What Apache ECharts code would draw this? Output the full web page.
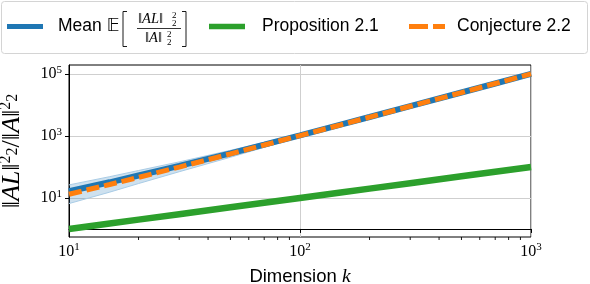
<!DOCTYPE html>
<html>
<head>
<meta charset="utf-8">
<script src="https://cdn.jsdelivr.net/npm/echarts@6/dist/echarts.min.js"></script>
<style>
  html, body { margin: 0; padding: 0; background: #fff; }
  #chart { width: 590px; height: 284px; }
</style>
</head>
<body>
<div id="chart"></div>
<script>
// ---- data ----
const kValues      = [10, 15, 20, 30, 50, 70, 100, 150, 200, 300, 500, 700, 1000];
const meanValues   = [16.5, 32, 53, 108, 275, 525, 1050, 2330, 4100, 9150, 25250, 49350, 100500];
const meanLower    = [6.6, 15.4, 29.2, 70.2, 206, 430, 924, 2144, 3854, 8784, 24490, 48360, 98990];
const meanUpper    = [26.4, 48.6, 76.9, 145.8, 344, 620, 1176, 2516, 4346, 9516, 26010, 50340, 102010];
const proposition  = [1, 1.5, 2, 3, 5, 7, 10, 15, 20, 30, 50, 70, 100];
const conjecture   = [13.2, 27.2, 46.2, 99.2, 265, 511, 1030, 2295, 4060, 9090, 25150, 49210, 100300];
const xTickValues  = [10, 100, 1000];
const yTickValues  = [10, 1000, 100000];
const xMinorTicks  = [20, 30, 40, 50, 60, 70, 80, 90, 200, 300, 400, 500, 600, 700, 800, 900];
const xRange       = [10, 1000];
const yRange       = [0.55, 195000];
const seriesNames  = ['Mean', 'Proposition 2.1', 'Conjecture 2.2'];
const legendTexts  = ['Mean 𝔼', 'Proposition 2.1', 'Conjecture 2.2'];

// ---- helpers (log scale mapping) ----
const L = v => Math.log10(v);
const pairs = arr => kValues.map((k, i) => [L(k), L(arr[i])]);

const serif = "'Liberation Serif', 'DejaVu Serif', serif";
const sans = "'Liberation Sans', 'DejaVu Sans', sans-serif";

const powLabel = v => '{b|10}{e|' + Math.round(v) + '}';
const powRich = {
  b: { fontFamily: serif, fontSize: 16, color: '#000' },
  e: { fontFamily: serif, fontSize: 11, color: '#000', padding: [0, 0, 8, 0] }
};

const chart = echarts.init(document.getElementById('chart'), null, { renderer: 'canvas' });
const yMinLog = L(yRange[0]);

// one legend component per entry, to pin each entry where the reference has it
const legendLeft = [7, 209, 409];
const legendGap = [10, 12, 7];
const legendIcons = [
  'path://M0,0h36v5h-36z',
  'path://M0,0h36v5.5h-36z',
  'path://M0,0h19v5h-19z M24,0h12v5h-12z'
];
const legends = seriesNames.map((name, i) => ({
  data: [{ name: name, icon: legendIcons[i] }],
  left: legendLeft[i],
  top: 17.5,
  padding: 0,
  itemWidth: 36,
  itemHeight: i === 1 ? 5.5 : 5,
  selectedMode: false,
  formatter: () => '{s| }{t|' + legendTexts[i] + '}',
  textStyle: {
    fontFamily: sans, fontSize: 17.5, color: '#000',
    rich: { s: { width: legendGap[i] }, t: { fontFamily: sans, fontSize: 17.5, color: '#000' } }
  }
}));

const fracRich = { i: { fontStyle: 'italic', fontFamily: serif, fontSize: 14.5 } };

const option = {
  animation: false,
  backgroundColor: '#fff',
  graphic: [
    { type: 'rect', z: -10, shape: { x: 1.5, y: 1.5, width: 586, height: 52, r: 3 },
      style: { fill: '#fff', stroke: '#d4d4d4', lineWidth: 1 } },
    // bracketed fraction of the Mean legend entry
    { type: 'polyline', z: 10, shape: { points: [[127, 11.5], [123, 11.5], [123, 46.5], [127, 46.5]] },
      style: { stroke: '#000', lineWidth: 0.9, fill: null } },
    { type: 'polyline', z: 10, shape: { points: [[182, 11.5], [186, 11.5], [186, 46.5], [182, 46.5]] },
      style: { stroke: '#000', lineWidth: 0.9, fill: null } },
    { type: 'line', z: 10, shape: { x1: 137, y1: 28.5, x2: 181, y2: 28.5 },
      style: { stroke: '#000', lineWidth: 0.8 } },
    { type: 'text', z: 10, left: 138, top: 12,
      style: { text: '‖{i|AL}‖', rich: fracRich, fontFamily: serif, fontSize: 14.5, fill: '#000' } },
    { type: 'text', z: 10, left: 172, top: 11, style: { text: '2', fontFamily: serif, fontSize: 9, fill: '#000' } },
    { type: 'text', z: 10, left: 172, top: 19, style: { text: '2', fontFamily: serif, fontSize: 9, fill: '#000' } },
    { type: 'text', z: 10, left: 145, top: 30.5,
      style: { text: '‖{i|A}‖', rich: fracRich, fontFamily: serif, fontSize: 14.5, fill: '#000' } },
    { type: 'text', z: 10, left: 167, top: 30, style: { text: '2', fontFamily: serif, fontSize: 9, fill: '#000' } },
    { type: 'text', z: 10, left: 167, top: 38, style: { text: '2', fontFamily: serif, fontSize: 9, fill: '#000' } }
  ],
  legend: legends,
  grid: {
    left: 69, right: 59, top: 65, bottom: 47,
    containLabel: false, outerBoundsMode: 'none',
    show: true, borderColor: '#000', borderWidth: 1, backgroundColor: 'transparent'
  },
  xAxis: {
    type: 'value',
    min: L(xRange[0]), max: L(xRange[1]),
    axisLine: { show: true, lineStyle: { color: '#000', width: 1 } },
    axisTick: { show: true, inside: false, length: 4, lineStyle: { color: '#000' },
                customValues: xTickValues.map(L) },
    axisLabel: { customValues: xTickValues.map(L), formatter: powLabel, rich: powRich, margin: 5 },
    splitLine: { show: true, lineStyle: { color: '#cfcfcf', width: 1 } },
    name: '{t|Dimension }{k|k}',
    nameLocation: 'middle',
    nameGap: 30,
    nameTextStyle: {
      rich: {
        t: { fontFamily: sans, fontSize: 18.5, color: '#000' },
        k: { fontFamily: serif, fontStyle: 'italic', fontSize: 19.5, color: '#000' }
      }
    }
  },
  yAxis: {
    type: 'value',
    min: L(yRange[0]), max: L(yRange[1]),
    axisLine: { show: true, lineStyle: { color: '#000', width: 1 } },
    axisTick: { show: true, inside: false, length: 4, lineStyle: { color: '#000' },
                customValues: yTickValues.map(L) },
    axisLabel: { customValues: yTickValues.map(L), formatter: powLabel, rich: powRich, margin: 7 },
    splitLine: { show: true, lineStyle: { color: '#cfcfcf', width: 1 } },
    name: '{m|‖}{i|AL}{m|‖}{e|2}{d|2}{m|/‖}{i|A}{m|‖}{e|2}{d|2}',
    nameLocation: 'middle',
    nameGap: 42,
    nameTextStyle: {
      rich: {
        m: { fontFamily: serif, fontSize: 26, color: '#000' },
        i: { fontFamily: serif, fontStyle: 'italic', fontSize: 26, color: '#000' },
        e: { fontFamily: serif, fontSize: 16, color: '#000', padding: [0, 0, 13, 0] },
        d: { fontFamily: serif, fontSize: 16, color: '#000' }
      }
    }
  },
  series: [
    {
      name: 'band', type: 'custom', silent: true, z: 1,
      data: kValues.map((k, i) => [L(k), L(meanLower[i]), L(meanUpper[i])]),
      encode: { x: 0, y: [1, 2] },
      renderItem: function (params, api) {
        if (params.dataIndex !== 0) return null;
        const upper = kValues.map((k, i) => api.coord([L(k), L(meanUpper[i])]));
        const lower = kValues.map((k, i) => api.coord([L(k), L(meanLower[i])])).reverse();
        return { type: 'polygon', shape: { points: upper.concat(lower) },
                 style: { fill: 'rgba(31,119,180,0.22)', stroke: null } };
      }
    },
    {
      name: 'bandLow', type: 'line', data: pairs(meanLower), symbol: 'none', silent: true, z: 1,
      lineStyle: { color: '#a9cce6', width: 1 }
    },
    {
      name: 'bandHigh', type: 'line', data: pairs(meanUpper), symbol: 'none', silent: true, z: 1,
      lineStyle: { color: '#a9cce6', width: 1 }
    },
    {
      name: 'Mean', type: 'line', data: pairs(meanValues), symbol: 'none', z: 2,
      lineStyle: { color: '#1f77b4', width: 6, cap: 'butt' },
      itemStyle: { color: '#1f77b4' }
    },
    {
      name: 'Proposition 2.1', type: 'line', data: pairs(proposition), symbol: 'none', z: 3,
      lineStyle: { color: '#2ca02c', width: 6.5, cap: 'butt' },
      itemStyle: { color: '#2ca02c' }
    },
    {
      name: 'Conjecture 2.2', type: 'line', data: pairs(conjecture), symbol: 'none', z: 4,
      lineStyle: { color: '#ff7f0e', width: 5, type: [13, 5], cap: 'butt' },
      itemStyle: { color: '#ff7f0e' }
    },
    {
      name: 'xMinorTicks', type: 'custom', silent: true, clip: false, z: 5,
      data: xMinorTicks.map(v => [L(v), yMinLog]),
      encode: { x: 0, y: 1 },
      renderItem: function (params, api) {
        const p = api.coord([api.value(0), api.value(1)]);
        return { type: 'line', shape: { x1: p[0], y1: p[1], x2: p[0], y2: p[1] + 3 },
                 style: { stroke: '#000', lineWidth: 0.9 } };
      }
    }
  ]
};

chart.setOption(option);
</script>
</body>
</html>
